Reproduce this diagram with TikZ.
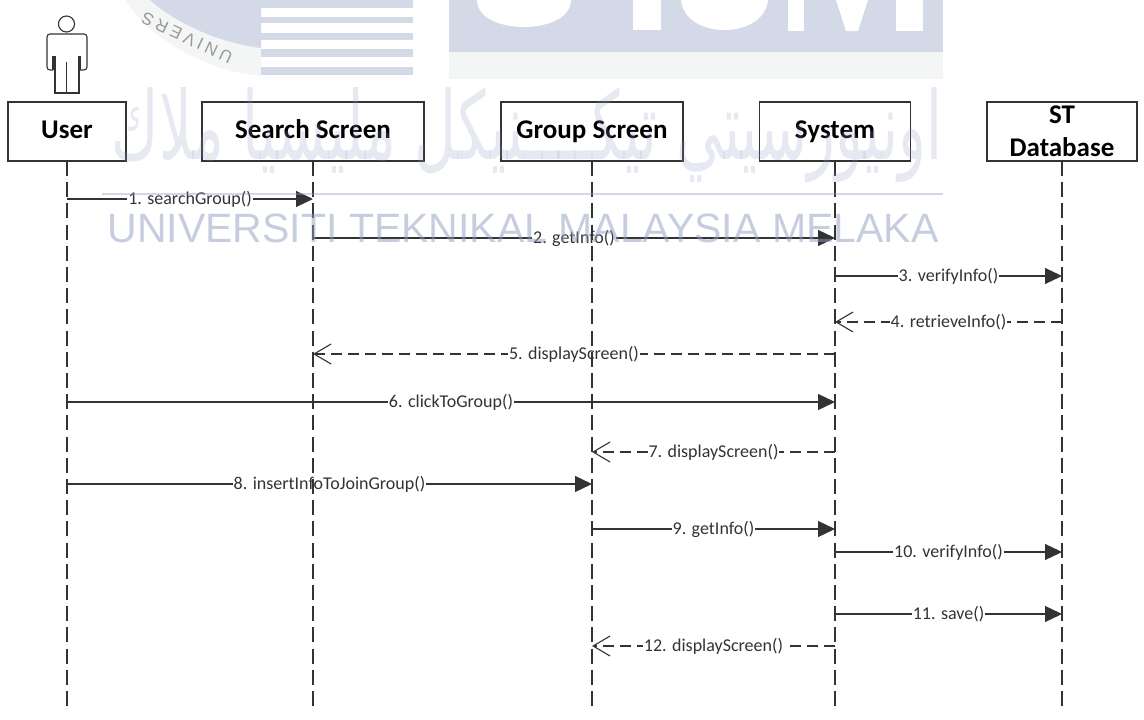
\documentclass[tikz,border=0pt]{standalone}
\usepackage{fontspec}
\usepackage{graphicx}
\usetikzlibrary{arrows.meta}
\setmainfont{Carlito}
\newfontfamily\wmfont{Liberation Sans}
\newfontfamily\jawifont[Script=Arabic]{DejaVu Sans}
\TeXXeTstate=1
\definecolor{logoblue}{HTML}{D3D9E6}
\definecolor{logopale}{HTML}{F4F5F5}
\definecolor{wmblue}{HTML}{8E9CC0}
\definecolor{inkgray}{HTML}{333333}
\tikzset{
    lifebox/.style={draw=inkgray, line width=1.1pt, fill=white, minimum height=59pt, align=center, inner sep=0pt,
        text height=20pt, text depth=7pt, font=\fontsize{27}{33}\selectfont\bfseries},
    lifeline/.style={draw=inkgray, line width=1.1pt, dash pattern=on 15pt off 6.2pt},
    msg/.style={draw=inkgray, line width=1.2pt, -{Triangle[length=17pt,width=16pt]}},
    reply/.style={draw=inkgray, line width=1.1pt, dash pattern=on 11pt off 6pt, -{Straight Barb[length=17pt,width=20pt]}},
    msglabel/.style={fill=white, inner sep=1pt, text=inkgray, font=\fontsize{18}{20}\selectfont},
    watermark/.style={text=wmblue, opacity=0.5, inner sep=0pt}
}
\begin{document}
\begin{tikzpicture}[x=1pt,y=-1pt]
    \useasboundingbox (0,0) rectangle (1144,720);
    % logo left of the top edge
    \fill[logopale] (125,0) .. controls (150,40) and (210,72) .. (261,76) -- (261,0) -- cycle;
    \fill[logoblue] (150,0) .. controls (175,22) and (215,42) .. (261,48) -- (261,0) -- cycle;
    \node[text=black!40, font=\wmfont\addfontfeature{LetterSpace=22}\fontsize{17}{17}\selectfont, rotate=155, inner sep=0pt] (sealtext) at (187,38) {UNIVERS};
    \fill[logoblue] (261,0) rectangle (413,8);
    \fill[logoblue] (261,17) rectangle (413,23);
    \fill[logoblue] (261,33) rectangle (413,40);
    \fill[logoblue] (261,49) rectangle (413,57);
    \fill[logoblue] (261,67) rectangle (413,75);
    % logo block with its letters
    \fill[logopale] (449,52) rectangle (943,79);
    \fill[logoblue] (449,0) rectangle (943,52);
    \fill[white] (477,0) -- (571,0) .. controls (571,36) and (477,36) .. (477,0) -- cycle;
    \fill[white] (633,0) rectangle (661,30);
    \fill[white] (681,0) .. controls (685,40) and (764,40) .. (768,0) -- cycle;
    \fill[white] (788,0) rectangle (804,31);
    \fill[white] (836,0) -- (846,31) -- (858,31) -- (868,0) -- cycle;
    \fill[white] (896,0) rectangle (923,31);
    % actor
    \draw[inkgray, line width=1.1pt] (66.5,24) circle (8);
    \draw[inkgray, line width=1.1pt, rounded corners=3pt] (53,70) -- (47,70) -- (47,34) -- (87,34) -- (87,70) -- (80,70);
    \draw[inkgray, line width=1.1pt] (53,70) -- (53,56) (55,56) -- (55,93) -- (79,93) -- (79,56) (80,70) -- (80,56) (66.5,62) -- (66.5,93);
    % boxes
    \node[lifebox, minimum width=118pt] (user) at (67,131.5) {User};
    \node[lifebox, minimum width=222pt] (searchScreen) at (313,131.5) {Search Screen};
    \node[lifebox, minimum width=182pt] (groupScreen) at (592,131.5) {Group Screen};
    \node[lifebox, minimum width=151pt] (systemBox) at (835,131.5) {System};
    \node[lifebox, minimum width=150pt, text height=, text depth=] (stDatabase) at (1062,131.5) {ST\\Database};
    % rows of messages
    \coordinate (end) at (0,707);
    \coordinate (row1) at (0,199);
    \coordinate (row2) at (0,238);
    \coordinate (row3) at (0,276);
    \coordinate (row4) at (0,322);
    \coordinate (row5) at (0,354);
    \coordinate (row6) at (0,402);
    \coordinate (row7) at (0,452);
    \coordinate (row8) at (0,484);
    \coordinate (row9) at (0,529);
    \coordinate (row10) at (0,552);
    \coordinate (row11) at (0,614);
    \coordinate (row12) at (0,646);
    \draw[msg] (user |- row1) -- node[msglabel] {1. searchGroup()} (searchScreen |- row1);
    \draw[msg] (searchScreen |- row2) -- node[msglabel] {2. getInfo()} (systemBox |- row2);
    \draw[msg] (systemBox |- row3) -- node[msglabel] {3. verifyInfo()} (stDatabase |- row3);
    \draw[reply] (stDatabase |- row4) -- node[msglabel] {4. retrieveInfo()} (systemBox |- row4);
    \draw[reply] (systemBox |- row5) -- node[msglabel] {5. displayScreen()} (searchScreen |- row5);
    \draw[msg] (user |- row6) -- node[msglabel] {6. clickToGroup()} (systemBox |- row6);
    \draw[reply] (systemBox |- row7) -- node[msglabel] {7. displayScreen()} (groupScreen |- row7);
    \draw[msg] (user |- row8) -- node[msglabel] {8. insertInfoToJoinGroup()} (groupScreen |- row8);
    \draw[msg] (groupScreen |- row9) -- node[msglabel] {9. getInfo()} (systemBox |- row9);
    \draw[msg] (systemBox |- row10) -- node[msglabel] {10. verifyInfo()} (stDatabase |- row10);
    \draw[msg] (systemBox |- row11) -- node[msglabel] {11. save()} (stDatabase |- row11);
    \draw[reply] (systemBox |- row12) -- node[msglabel] {12. displayScreen()} (groupScreen |- row12);
    % lifelines
    \draw[lifeline] (user) ++(0,29.5) -- (user |- end);
    \draw[lifeline] (searchScreen) ++(0,29.5) -- (searchScreen |- end);
    \draw[lifeline] (groupScreen) ++(0,29.5) -- (groupScreen |- end);
    \draw[lifeline] (systemBox) ++(0,29.5) -- (systemBox |- end);
    \draw[lifeline] (stDatabase) ++(0,29.5) -- (stDatabase |- end);
    % watermark
    \draw[wmblue, opacity=0.4, line width=1.5pt] (102,194) -- (943,194);
    \node[watermark, opacity=0.22, font=\jawifont] (jawiText) at (527,135) {\resizebox{830pt}{72pt}{\beginR اونيورسيتي تيكــــنيكل مليسيا ملاك\endR}};
    \node[watermark, font=\wmfont\fontsize{41}{41}\selectfont] (uniText) at (523,228) {UNIVERSITI TEKNIKAL MALAYSIA MELAKA};
\end{tikzpicture}
\end{document}
